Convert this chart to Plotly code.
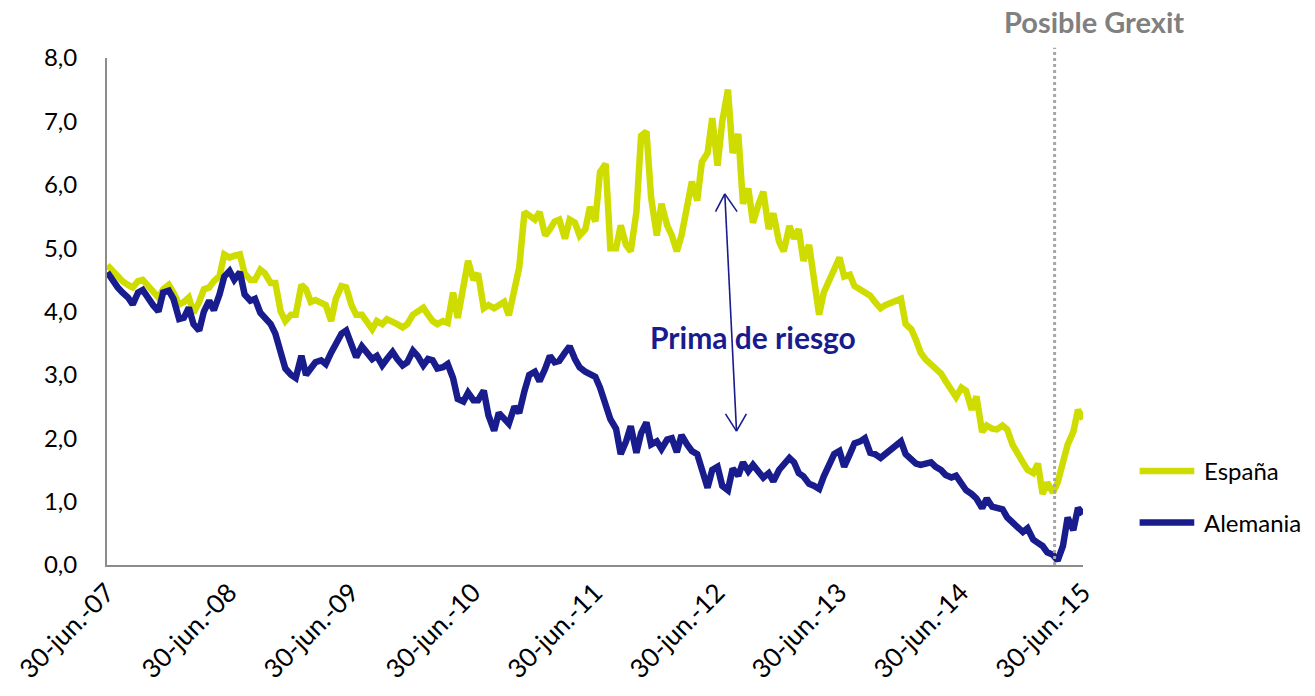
import pandas as pd
import plotly.graph_objects as go

# Semi-monthly observation dates (1st and 15th of each month), last one end of June 2015
dates = [d.strftime("%Y-%m-%d") for d in pd.date_range("2007-07-01", periods=192, freq="SMS")] + ["2015-06-30"]

espana = [
    4.73, 4.65, 4.55, 4.48, 4.42, 4.38, 4.48, 4.50, 4.40, 4.33,
    4.22, 4.35, 4.42, 4.30, 4.11, 4.15, 4.22, 3.98, 4.15, 4.35,
    4.38, 4.48, 4.56, 4.90, 4.85, 4.88, 4.90, 4.60, 4.50, 4.50,
    4.66, 4.60, 4.45, 4.45, 4.00, 3.85, 3.95, 3.95, 4.42, 4.35,
    4.15, 4.18, 4.12, 4.10, 3.85, 4.20, 4.40, 4.38, 4.10, 3.95,
    3.95, 3.85, 3.72, 3.85, 3.80, 3.88, 3.85, 3.80, 3.75, 3.80,
    3.95, 4.00, 4.06, 3.95, 3.85, 3.80, 3.85, 3.82, 4.30, 3.90,
    4.40, 4.80, 4.50, 4.60, 4.05, 4.10, 4.05, 4.10, 4.15, 3.94,
    4.40, 4.69, 5.57, 5.50, 5.45, 5.57, 5.20, 5.30, 5.42, 5.45,
    5.15, 5.45, 5.40, 5.20, 5.30, 5.65, 5.42, 6.20, 6.33, 5.00,
    5.00, 5.36, 5.05, 4.95, 5.57, 6.77, 6.84, 5.80, 5.20, 5.70,
    5.36, 5.20, 4.95, 5.20, 5.70, 6.05, 5.75, 6.36, 6.50, 7.05,
    6.30, 7.00, 7.50, 6.50, 6.80, 5.70, 5.94, 5.40, 5.70, 5.89,
    5.30, 5.55, 5.10, 4.95, 5.35, 5.15, 5.30, 4.80, 5.05, 4.50,
    3.95, 4.30, 4.50, 4.70, 4.85, 4.55, 4.58, 4.40, 4.35, 4.30,
    4.25, 4.15, 4.05, 4.10, 4.14, 4.15, 4.20, 3.80, 3.72, 3.55,
    3.35, 3.25, 3.17, 3.10, 3.02, 2.90, 2.75, 2.65, 2.80, 2.75,
    2.45, 2.66, 2.10, 2.20, 2.15, 2.14, 2.20, 2.14, 1.90, 1.75,
    1.62, 1.50, 1.45, 1.60, 1.12, 1.30, 1.14, 1.30, 1.60, 1.90,
    2.10, 2.45, 2.30,
]

alemania = [
    4.62, 4.50, 4.38, 4.30, 4.22, 4.11, 4.30, 4.34, 4.19, 4.10,
    4.00, 4.30, 4.33, 4.20, 3.88, 3.90, 4.06, 3.80, 3.70, 4.00,
    4.17, 4.02, 4.27, 4.55, 4.64, 4.50, 4.62, 4.27, 4.17, 4.20,
    3.98, 3.90, 3.80, 3.65, 3.30, 3.10, 3.00, 2.95, 3.30, 3.00,
    3.10, 3.20, 3.23, 3.17, 3.35, 3.50, 3.65, 3.70, 3.45, 3.28,
    3.45, 3.35, 3.25, 3.30, 3.15, 3.25, 3.36, 3.25, 3.15, 3.20,
    3.38, 3.30, 3.15, 3.25, 3.23, 3.10, 3.12, 3.17, 2.95, 2.62,
    2.58, 2.72, 2.60, 2.60, 2.75, 2.36, 2.12, 2.40, 2.31, 2.23,
    2.50, 2.40, 2.75, 3.00, 3.05, 2.90, 3.10, 3.30, 3.20, 3.22,
    3.35, 3.45, 3.25, 3.12, 3.05, 3.00, 2.97, 2.80, 2.50, 2.30,
    2.15, 1.75, 1.95, 2.19, 1.77, 2.08, 2.25, 1.90, 1.95, 1.83,
    1.98, 2.00, 1.78, 2.05, 1.90, 1.80, 1.75, 1.50, 1.22, 1.50,
    1.55, 1.25, 1.18, 1.52, 1.41, 1.62, 1.48, 1.58, 1.45, 1.38,
    1.45, 1.32, 1.50, 1.60, 1.69, 1.62, 1.45, 1.40, 1.28, 1.25,
    1.20, 1.40, 1.60, 1.75, 1.80, 1.55, 1.75, 1.92, 1.95, 2.00,
    1.77, 1.75, 1.69, 1.75, 1.83, 1.90, 1.95, 1.75, 1.65, 1.60,
    1.58, 1.60, 1.62, 1.55, 1.50, 1.42, 1.38, 1.41, 1.28, 1.18,
    1.12, 1.05, 0.90, 1.05, 0.92, 0.89, 0.88, 0.75, 0.66, 0.58,
    0.52, 0.58, 0.40, 0.35, 0.30, 0.20, 0.16, 0.07, 0.30, 0.75,
    0.55, 0.90, 0.80,
]

tick_dates = ["2007-06-30", "2008-06-30", "2009-06-30", "2010-06-30", "2011-06-30",
              "2012-06-30", "2013-06-30", "2014-06-30", "2015-06-30"]
tick_labels = ["30-jun.-07", "30-jun.-08", "30-jun.-09", "30-jun.-10", "30-jun.-11",
               "30-jun.-12", "30-jun.-13", "30-jun.-14", "30-jun.-15"]
grexit_date = "2015-04-06"

COL_ES = "#cfdc00"
COL_DE = "#191c8c"
FONT = "Lato"

fig = go.Figure()
fig.add_trace(go.Scatter(x=dates, y=espana, name="España", mode="lines",
                         line=dict(color=COL_ES, width=6.5), showlegend=False))
fig.add_trace(go.Scatter(x=dates, y=alemania, name="Alemania", mode="lines",
                         line=dict(color=COL_DE, width=6.5), showlegend=False))

shapes = []
# Grexit dotted vertical line
shapes.append(dict(type="line", xref="x", yref="paper", x0=grexit_date, x1=grexit_date,
                   y0=0, y1=1.02, line=dict(color="#a6a6a6", width=3, dash="dot")))
# Double-headed arrow (risk premium)
arrow = dict(color=COL_DE, width=1.6)
shapes.append(dict(type="line", xref="paper", yref="paper", x0=0.633, y0=0.732, x1=0.645, y1=0.264, line=arrow))
shapes.append(dict(type="line", xref="paper", yref="paper", x0=0.633, y0=0.732, x1=0.6235, y1=0.697, line=arrow))
shapes.append(dict(type="line", xref="paper", yref="paper", x0=0.633, y0=0.732, x1=0.6456, y1=0.697, line=arrow))
shapes.append(dict(type="line", xref="paper", yref="paper", x0=0.645, y0=0.264, x1=0.6337, y1=0.298, line=arrow))
shapes.append(dict(type="line", xref="paper", yref="paper", x0=0.645, y0=0.264, x1=0.6551, y1=0.298, line=arrow))
# Legend swatches
shapes.append(dict(type="line", xref="paper", yref="paper", x0=1.058, x1=1.114, y0=0.1855, y1=0.1855,
                   line=dict(color=COL_ES, width=6.5)))
shapes.append(dict(type="line", xref="paper", yref="paper", x0=1.058, x1=1.114, y0=0.084, y1=0.084,
                   line=dict(color=COL_DE, width=6.5)))

annotations = [
    dict(text="<b>Posible Grexit</b>", xref="paper", yref="paper", x=1.011, y=1.072,
         showarrow=False, font=dict(family=FONT, size=29, color="#808080"), xanchor="center", yanchor="middle"),
    dict(text="<b>Prima de riesgo</b>", xref="paper", yref="paper", x=0.662, y=0.449,
         showarrow=False, font=dict(family=FONT, size=30, color=COL_DE), xanchor="center", yanchor="middle"),
    dict(text="España", xref="paper", yref="paper", x=1.122, y=0.1855, showarrow=False,
         font=dict(family=FONT, size=24, color="#000000"), xanchor="left", yanchor="middle"),
    dict(text="Alemania", xref="paper", yref="paper", x=1.122, y=0.084, showarrow=False,
         font=dict(family=FONT, size=24, color="#000000"), xanchor="left", yanchor="middle"),
]

fig.update_layout(
    width=1315, height=696,
    margin=dict(l=101, r=232, t=58, b=126),
    paper_bgcolor="white", plot_bgcolor="white",
    separators=",.",
    font=dict(family=FONT, size=24, color="#000000"),
    shapes=shapes, annotations=annotations,
    showlegend=False,
)
fig.update_xaxes(
    type="date", range=["2007-06-30", "2015-06-30"],
    tickmode="array", tickvals=tick_dates, ticktext=tick_labels, tickangle=-45,
    showgrid=False, zeroline=False, showline=True, linecolor="#8c8c8c", linewidth=2,
    ticks="", tickfont=dict(family=FONT, size=26, color="#000000"),
)
fig.update_yaxes(
    range=[0, 8], dtick=1, tickformat=".1f",
    showgrid=False, zeroline=False, showline=True, linecolor="#8c8c8c", linewidth=2,
    ticks="", ticklabelstandoff=23, tickfont=dict(family=FONT, size=24, color="#000000"),
)

fig.write_html("out.html", config={"displayModeBar": False},
               post_script="document.body.style.margin='0';document.body.style.padding='0';")
